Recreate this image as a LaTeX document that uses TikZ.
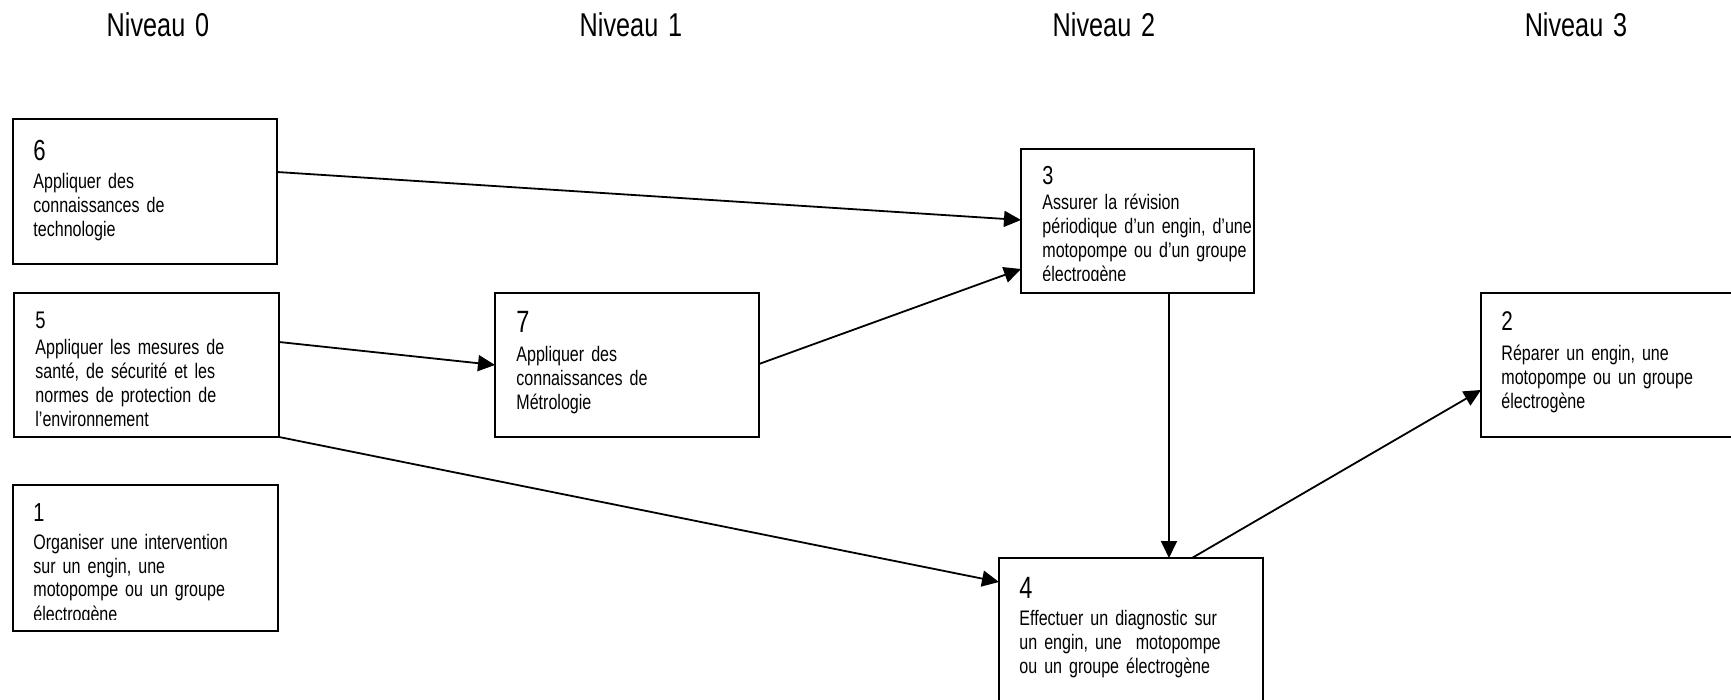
\documentclass[tikz,border=0pt]{standalone}
\usepackage{fontspec}
\setmainfont{Liberation Sans}[FakeStretch=0.765,WordSpace=0.75]
\usetikzlibrary{arrows.meta,calc}
\tikzset{
  box/.style={draw, line width=0.9pt, inner sep=0pt, outer sep=0pt, anchor=north west, minimum height=72pt},
  txt/.style={inner sep=0pt, anchor=base west, text width=125pt, align=left, font=\fontsize{10.5}{12}\selectfont},
  num/.style={inner sep=0pt, anchor=base west},
  lvl/.style={inner sep=0pt, anchor=base, font=\fontsize{16.5}{18}\selectfont},
  arr/.style={line width=0.9pt, -{Triangle[length=8.5pt,width=8pt]}},
}
\begin{document}
\begin{tikzpicture}[x=0.5pt,y=-0.5pt]
\useasboundingbox (0,0) rectangle (1731,700);
\clip (0,0) rectangle (1731,700);
% level headings
\node[lvl] (n0) at (158,37) {Niveau\hspace{0.3em}0};
\node[lvl] (n1) at (631,37) {Niveau\hspace{0.3em}1};
\node[lvl] (n2) at (1104,37) {Niveau\hspace{0.3em}2};
\node[lvl] (n3) at (1576,37) {Niveau\hspace{0.3em}3};
% boxes
\node[box, minimum width=132pt, minimum height=72.5pt] (b6) at (13,119) {};
\node[box, minimum width=132.5pt] (b5) at (14,293) {};
\node[box, minimum width=132.5pt, minimum height=73pt] (b1) at (13,485) {};
\node[box, minimum width=132pt] (b7) at (495,293) {};
\node[box, minimum width=116.5pt] (b3) at (1021,149) {};
\node[box, minimum width=132pt, minimum height=80pt] (b4) at (999,558) {};
\node[box, minimum width=132pt] (b2) at (1481,293) {};
% texts
\node[num, font=\fontsize{14.5}{16}\selectfont] (d6) at (33,161) {6};
\node[txt] (t6) at (33,189) {Appliquer des\\connaissances de\\technologie};
\node[num, font=\fontsize{12}{14}\selectfont] (d5) at (35,329) {5};
\node[txt] (t5) at (35,355) {Appliquer les mesures de\\santé, de sécurité et les\\normes de protection de\\l’environnement};
\node[num, font=\fontsize{13}{15}\selectfont] (d1) at (33,521) {1};
\begin{scope}
\clip (b1.north west) rectangle ($(b1.south east)+(10,-12)$);
\node[txt] (t1) at (33,549) {Organiser une intervention\\sur un engin, une\\motopompe ou un groupe\\électrogène};
\end{scope}
\node[num, font=\fontsize{15.4}{17}\selectfont] (d7) at (516,333) {7};
\node[txt] (t7) at (516,362) {Appliquer des\\connaissances de\\Métrologie};
\node[num, font=\fontsize{13}{15}\selectfont] (d3) at (1042,185) {3};
\begin{scope}
\clip (b3.north west) rectangle ($(b3.south east)+(10,-12)$);
\node[txt] (t3) at (1042,210) {Assurer la révision\\périodique d’un engin, d’une\\motopompe ou d’un groupe\\électrogène};
\end{scope}
\node[num, font=\fontsize{15.4}{17}\selectfont] (d4) at (1019,598) {4};
\node[txt] (t4) at (1019,625) {Effectuer un diagnostic sur\\un engin, une \ motopompe\\ou un groupe électrogène};
\node[num, font=\fontsize{13.5}{15}\selectfont] (d2) at (1501,331) {2};
\node[txt] (t2) at (1501,361) {Réparer un engin, une\\motopompe ou un groupe\\électrogène};
% connectors
\draw[arr] ($(b6.north east)+(0,53)$) -- ($(b3.north west)+(0,71)$);
\draw[arr] ($(b5.north east)+(0,49)$) -- ($(b7.north west)+(0,72)$);
\draw[arr] ($(b7.north east)+(0,71)$) -- ($(b3.north west)+(0,120)$);
\draw[arr] (b5.south east) -- ($(b4.north west)+(0,24)$);
\draw[arr] ($(b3.south west)+(148,0)$) -- ($(b4.north west)+(170,0)$);
\draw[arr] ($(b4.north west)+(193,0)$) -- ($(b2.north west)+(0,97)$);
\end{tikzpicture}
\end{document}
